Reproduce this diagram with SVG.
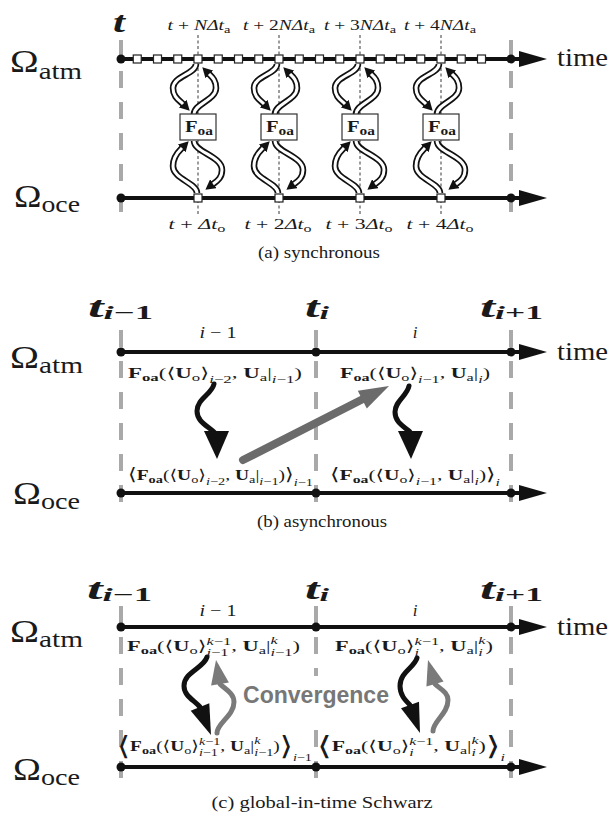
<svg xmlns="http://www.w3.org/2000/svg" width="611" height="816" viewBox="0 0 611 816">
<style>
text{font-family:"Liberation Serif","DejaVu Serif","DejaVu Sans",serif;fill:#1a1a1a}
.bf{font-weight:bold}
.it{font-style:italic}
.s{font-size:11px}
.tl{stroke:#111;stroke-width:4;fill:none}
.gd{stroke:#a9a9a9;stroke-width:4;stroke-dasharray:17 14;fill:none}
.td{stroke:#222;stroke-width:0.9;stroke-dasharray:3 2.5;fill:none}
.dot{fill:#111}
.ah{fill:#111}
.sq{fill:#fff;stroke:#222;stroke-width:1.2}
.box{fill:#fff;stroke:#333;stroke-width:1.2}
.to{stroke:#111;stroke-width:6.5;fill:none}
.ti{stroke:#fff;stroke-width:3;fill:none}
.bw{stroke:#111;stroke-width:5;fill:none;stroke-linecap:round}
.gw{stroke:#7a7a7a;stroke-width:5;fill:none;stroke-linecap:round}
.ga{fill:#7a7a7a}
.conv{font-family:"Liberation Sans",Arial,sans-serif;font-weight:bold;fill:#777}
</style>
<defs>
<marker id="tah" markerUnits="userSpaceOnUse" markerWidth="10" markerHeight="11" viewBox="0 0 10 11" refX="0.5" refY="5.5" orient="auto"><path d="M0,0 L10,5.5 L0,11 z" fill="#111"/></marker>
<g id="tubes">
<path class="to" marker-end="url(#tah)" d="M-2,64 C-2,74 -25,76 -25,88 C-25,97 -19,100 -15,104"/>
<path class="to" marker-end="url(#tah)" d="M-4,114 C-4,104 18,100 18,88 C18,80 14,77 11,74"/>
<path class="to" marker-end="url(#tah)" d="M-1,193 C-1,183 -25,179 -25,166 C-25,156 -19,151 -16,148"/>
<path class="to" marker-end="url(#tah)" d="M-4,141 C-4,152 24,156 24,170 C24,178 19,181 15,184"/>
<path class="ti" d="M-2,64 C-2,74 -25,76 -25,88 C-25,97 -19,100 -15,104"/>
<path class="ti" d="M-4,114 C-4,104 18,100 18,88 C18,80 14,77 11,74"/>
<path class="ti" d="M-1,193 C-1,183 -25,179 -25,166 C-25,156 -19,151 -16,148"/>
<path class="ti" d="M-4,141 C-4,152 24,156 24,170 C24,178 19,181 15,184"/>
</g>
<g id="foa">
<rect class="box" x="-18" y="114" width="36" height="26"/>
<text x="1" y="132" text-anchor="middle" font-size="16" class="bf" textLength="28" lengthAdjust="spacingAndGlyphs">F<tspan font-size="12" dy="3">oa</tspan></text>
</g>
</defs>

<!-- ===== Panel (a) ===== -->
<g id="panel-a">
<line class="gd" x1="121" y1="40" x2="121" y2="212"/>
<line class="gd" x1="511" y1="40" x2="511" y2="212"/>
<g id="a-ticks">
<line class="td" x1="198" y1="35" x2="198" y2="216"/>
<line class="td" x1="279" y1="35" x2="279" y2="216"/>
<line class="td" x1="360" y1="35" x2="360" y2="216"/>
<line class="td" x1="441" y1="35" x2="441" y2="216"/>
</g>
<g id="a-timelines">
<line class="tl" x1="121" y1="59" x2="524" y2="59"/>
<polygon class="ah" points="519,51 547,59 519,67"/>
<circle class="dot" cx="121" cy="59" r="4.5"/>
<circle class="dot" cx="511" cy="59" r="4.5"/>
<line class="tl" x1="121" y1="198" x2="524" y2="198"/>
<polygon class="ah" points="519,190 547,198 519,206"/>
<circle class="dot" cx="121" cy="198" r="4.5"/>
<circle class="dot" cx="511" cy="198" r="4.5"/>
</g>
<g id="a-connectors">
<use href="#tubes" x="198"/>
<use href="#tubes" x="279"/>
<use href="#tubes" x="360"/>
<use href="#tubes" x="441"/>
</g>
<g id="a-foa-1"><use href="#foa" x="198"/></g>
<g id="a-foa-2"><use href="#foa" x="279"/></g>
<g id="a-foa-3"><use href="#foa" x="360"/></g>
<g id="a-foa-4"><use href="#foa" x="441"/></g>
<g id="a-atm-steps">
<rect class="sq" x="133.25" y="55" width="8" height="8"/>
<rect class="sq" x="153.5" y="55" width="8" height="8"/>
<rect class="sq" x="173.75" y="55" width="8" height="8"/>
<rect class="sq" x="194" y="55" width="8" height="8"/>
<rect class="sq" x="214.25" y="55" width="8" height="8"/>
<rect class="sq" x="234.5" y="55" width="8" height="8"/>
<rect class="sq" x="254.75" y="55" width="8" height="8"/>
<rect class="sq" x="275" y="55" width="8" height="8"/>
<rect class="sq" x="295.25" y="55" width="8" height="8"/>
<rect class="sq" x="315.5" y="55" width="8" height="8"/>
<rect class="sq" x="335.75" y="55" width="8" height="8"/>
<rect class="sq" x="356" y="55" width="8" height="8"/>
<rect class="sq" x="376.25" y="55" width="8" height="8"/>
<rect class="sq" x="396.5" y="55" width="8" height="8"/>
<rect class="sq" x="416.75" y="55" width="8" height="8"/>
<rect class="sq" x="437" y="55" width="8" height="8"/>
<rect class="sq" x="457.25" y="55" width="8" height="8"/>
<rect class="sq" x="477.5" y="55" width="8" height="8"/>
</g>
<g id="a-oce-steps">
<rect class="sq" x="194" y="194" width="8" height="8"/>
<rect class="sq" x="275" y="194" width="8" height="8"/>
<rect class="sq" x="356" y="194" width="8" height="8"/>
<rect class="sq" x="437" y="194" width="8" height="8"/>
</g>
<g id="a-labels">
<text x="113" y="32" font-size="29" class="bf it" textLength="12" lengthAdjust="spacingAndGlyphs">t</text>
<text x="10" y="72" font-size="32" textLength="72" lengthAdjust="spacingAndGlyphs">Ω<tspan font-size="24" dy="7">atm</tspan></text>
<text x="14" y="207" font-size="32" textLength="66" lengthAdjust="spacingAndGlyphs">Ω<tspan font-size="24" dy="5">oce</tspan></text>
<text x="557" y="66" font-size="26" textLength="51" lengthAdjust="spacingAndGlyphs">time</text>
<text x="199" y="30" font-size="15" text-anchor="middle" textLength="63" lengthAdjust="spacingAndGlyphs"><tspan class="it">t</tspan> + <tspan class="it">NΔt</tspan><tspan class="s" dy="3">a</tspan></text>
<text x="279" y="30" font-size="15" text-anchor="middle" textLength="72" lengthAdjust="spacingAndGlyphs"><tspan class="it">t</tspan> + 2<tspan class="it">NΔt</tspan><tspan class="s" dy="3">a</tspan></text>
<text x="360" y="30" font-size="15" text-anchor="middle" textLength="72" lengthAdjust="spacingAndGlyphs"><tspan class="it">t</tspan> + 3<tspan class="it">NΔt</tspan><tspan class="s" dy="3">a</tspan></text>
<text x="440" y="30" font-size="15" text-anchor="middle" textLength="72" lengthAdjust="spacingAndGlyphs"><tspan class="it">t</tspan> + 4<tspan class="it">NΔt</tspan><tspan class="s" dy="3">a</tspan></text>
<text x="197" y="229" font-size="15" text-anchor="middle" textLength="57" lengthAdjust="spacingAndGlyphs"><tspan class="it">t</tspan> + <tspan class="it">Δt</tspan><tspan class="s" dy="3">o</tspan></text>
<text x="278" y="229" font-size="15" text-anchor="middle" textLength="67" lengthAdjust="spacingAndGlyphs"><tspan class="it">t</tspan> + 2<tspan class="it">Δt</tspan><tspan class="s" dy="3">o</tspan></text>
<text x="359" y="229" font-size="15" text-anchor="middle" textLength="67" lengthAdjust="spacingAndGlyphs"><tspan class="it">t</tspan> + 3<tspan class="it">Δt</tspan><tspan class="s" dy="3">o</tspan></text>
<text x="440" y="229" font-size="15" text-anchor="middle" textLength="67" lengthAdjust="spacingAndGlyphs"><tspan class="it">t</tspan> + 4<tspan class="it">Δt</tspan><tspan class="s" dy="3">o</tspan></text>
<text x="319" y="258" font-size="17" text-anchor="middle" textLength="122" lengthAdjust="spacingAndGlyphs">(a) synchronous</text>
</g>
</g>

<!-- ===== Panel (b) ===== -->
<g id="panel-b">
<line class="gd" x1="121" y1="330" x2="121" y2="505"/>
<line class="gd" x1="316" y1="330" x2="316" y2="505"/>
<line class="gd" x1="511" y1="330" x2="511" y2="505"/>
<g id="b-timelines">
<line class="tl" x1="121" y1="352" x2="524" y2="352"/>
<polygon class="ah" points="519,344 547,352 519,360"/>
<circle class="dot" cx="121" cy="352" r="4.5"/>
<circle class="dot" cx="316" cy="352" r="4.5"/>
<circle class="dot" cx="511" cy="352" r="4.5"/>
<line class="tl" x1="121" y1="493" x2="524" y2="493"/>
<polygon class="ah" points="519,485 547,493 519,501"/>
<circle class="dot" cx="121" cy="493" r="4.5"/>
<circle class="dot" cx="316" cy="493" r="4.5"/>
<circle class="dot" cx="511" cy="493" r="4.5"/>
</g>
<g id="b-connectors">
<path class="bw" d="M214,384 C212,394 197,399 197,411 C197,422 208,426 215,433"/>
<polygon class="ah" points="204,431 229,431 217,459"/>
<path class="bw" d="M409,386 C407,396 395,401 395,412 C395,422 403,426 410,432"/>
<polygon class="ah" points="398,431 423,431 411,459"/>
<line x1="243" y1="460" x2="363" y2="399" stroke="#6b6b6b" stroke-width="8" stroke-linecap="round"/>
<polygon fill="#6b6b6b" points="389,386 366.8,408.5 357.8,390.7"/>
</g>
<g id="b-labels">
<text x="10" y="368" font-size="32" textLength="73" lengthAdjust="spacingAndGlyphs">Ω<tspan font-size="24" dy="5">atm</tspan></text>
<text x="13" y="504" font-size="32" textLength="67" lengthAdjust="spacingAndGlyphs">Ω<tspan font-size="24" dy="5">oce</tspan></text>
<text x="557" y="360" font-size="26" textLength="51" lengthAdjust="spacingAndGlyphs">time</text>
<text x="88" y="317" font-size="29" class="bf" textLength="65" lengthAdjust="spacingAndGlyphs"><tspan class="it">t</tspan><tspan font-size="19" dy="2"><tspan class="it">i</tspan>−1</tspan></text>
<text x="305" y="317" font-size="29" class="bf" textLength="24" lengthAdjust="spacingAndGlyphs"><tspan class="it">t</tspan><tspan font-size="19" dy="2" class="it">i</tspan></text>
<text x="480" y="317" font-size="29" class="bf" textLength="63" lengthAdjust="spacingAndGlyphs"><tspan class="it">t</tspan><tspan font-size="19" dy="2"><tspan class="it">i</tspan>+1</tspan></text>
<text x="218" y="338" font-size="17" text-anchor="middle" textLength="37" lengthAdjust="spacingAndGlyphs"><tspan class="it">i</tspan> − 1</text>
<text x="415" y="338" font-size="17" text-anchor="middle" class="it">i</text>
<text x="128" y="378" font-size="15" textLength="174" lengthAdjust="spacingAndGlyphs"><tspan class="bf">F</tspan><tspan class="bf s" dy="3">oa</tspan><tspan dy="-3">(⟨</tspan><tspan class="bf">U</tspan><tspan class="s" dy="3">o</tspan><tspan dy="-3">⟩</tspan><tspan class="s" dy="5"><tspan class="it">i</tspan>−2</tspan><tspan dy="-5">, </tspan><tspan class="bf">U</tspan><tspan class="s" dy="3">a</tspan><tspan dy="-3">|</tspan><tspan class="s" dy="5"><tspan class="it">i</tspan>−1</tspan><tspan dy="-5">)</tspan></text>
<text x="340" y="378" font-size="15" textLength="150" lengthAdjust="spacingAndGlyphs"><tspan class="bf">F</tspan><tspan class="bf s" dy="3">oa</tspan><tspan dy="-3">(⟨</tspan><tspan class="bf">U</tspan><tspan class="s" dy="3">o</tspan><tspan dy="-3">⟩</tspan><tspan class="s" dy="5"><tspan class="it">i</tspan>−1</tspan><tspan dy="-5">, </tspan><tspan class="bf">U</tspan><tspan class="s" dy="3">a</tspan><tspan dy="-3">|</tspan><tspan class="s it" dy="5">i</tspan><tspan dy="-5">)</tspan></text>
<text x="128" y="480" font-size="15" textLength="185" lengthAdjust="spacingAndGlyphs"><tspan font-size="17">⟨</tspan><tspan class="bf">F</tspan><tspan class="bf s" dy="3">oa</tspan><tspan dy="-3">(⟨</tspan><tspan class="bf">U</tspan><tspan class="s" dy="3">o</tspan><tspan dy="-3">⟩</tspan><tspan class="s" dy="5"><tspan class="it">i</tspan>−2</tspan><tspan dy="-5">, </tspan><tspan class="bf">U</tspan><tspan class="s" dy="3">a</tspan><tspan dy="-3">|</tspan><tspan class="s" dy="5"><tspan class="it">i</tspan>−1</tspan><tspan dy="-5">)</tspan><tspan font-size="17">⟩</tspan><tspan class="s" dy="6"><tspan class="it">i</tspan>−1</tspan></text>
<text x="330" y="480" font-size="15" textLength="170" lengthAdjust="spacingAndGlyphs"><tspan font-size="17">⟨</tspan><tspan class="bf">F</tspan><tspan class="bf s" dy="3">oa</tspan><tspan dy="-3">(⟨</tspan><tspan class="bf">U</tspan><tspan class="s" dy="3">o</tspan><tspan dy="-3">⟩</tspan><tspan class="s" dy="5"><tspan class="it">i</tspan>−1</tspan><tspan dy="-5">, </tspan><tspan class="bf">U</tspan><tspan class="s" dy="3">a</tspan><tspan dy="-3">|</tspan><tspan class="s it" dy="5">i</tspan><tspan dy="-5">)</tspan><tspan font-size="17">⟩</tspan><tspan class="s it" dy="6">i</tspan></text>
<text x="322" y="527" font-size="17" text-anchor="middle" textLength="130" lengthAdjust="spacingAndGlyphs">(b) asynchronous</text>
</g>
</g>

<!-- ===== Panel (c) ===== -->
<g id="panel-c">
<line class="gd" x1="121" y1="606" x2="121" y2="785"/>
<line class="gd" x1="316" y1="606" x2="316" y2="785"/>
<line class="gd" x1="511" y1="606" x2="511" y2="785"/>
<g id="c-timelines">
<line class="tl" x1="121" y1="627" x2="524" y2="627"/>
<polygon class="ah" points="519,619 547,627 519,635"/>
<circle class="dot" cx="121" cy="627" r="4.5"/>
<circle class="dot" cx="316" cy="627" r="4.5"/>
<circle class="dot" cx="511" cy="627" r="4.5"/>
<line class="tl" x1="121" y1="767" x2="524" y2="767"/>
<polygon class="ah" points="519,759 547,767 519,775"/>
<circle class="dot" cx="121" cy="767" r="4.5"/>
<circle class="dot" cx="316" cy="767" r="4.5"/>
<circle class="dot" cx="511" cy="767" r="4.5"/>
</g>
<g id="c-convergence">
<rect x="240" y="676" width="152" height="40" fill="#fff"/>
<text x="243" y="703" font-size="23" class="conv" textLength="146" lengthAdjust="spacingAndGlyphs">Convergence</text>
</g>
<g id="c-connectors">
<path class="bw" d="M207,657 C204,668 184,672 184,686 C184,696 194,700 200,707"/>
<polygon class="ah" points="209.3,703.3 190.7,710.7 211,735"/>
<path class="gw" d="M217,733 C217,723 234,716 234,702 C234,693 225,689 220,684"/>
<polygon class="ga" points="228.9,682.5 211.1,685.5 216,660"/>
<path class="bw" d="M417,658 C414,668 400,672 400,686 C400,695 405,700 410,705"/>
<polygon class="ah" points="419,701.8 401,708.2 420,733"/>
<path class="gw" d="M433,731 C433,721 448,714 448,700 C448,692 440,689 435,684"/>
<polygon class="ga" points="443.6,681.5 426.4,686.5 428,660"/>
</g>
<g id="c-labels">
<text x="10" y="642" font-size="32" textLength="73" lengthAdjust="spacingAndGlyphs">Ω<tspan font-size="24" dy="5">atm</tspan></text>
<text x="13" y="780" font-size="32" textLength="67" lengthAdjust="spacingAndGlyphs">Ω<tspan font-size="24" dy="5">oce</tspan></text>
<text x="557" y="635" font-size="26" textLength="51" lengthAdjust="spacingAndGlyphs">time</text>
<text x="87" y="599" font-size="29" class="bf" textLength="65" lengthAdjust="spacingAndGlyphs"><tspan class="it">t</tspan><tspan font-size="19" dy="2"><tspan class="it">i</tspan>−1</tspan></text>
<text x="305" y="599" font-size="29" class="bf" textLength="24" lengthAdjust="spacingAndGlyphs"><tspan class="it">t</tspan><tspan font-size="19" dy="2" class="it">i</tspan></text>
<text x="480" y="599" font-size="29" class="bf" textLength="63" lengthAdjust="spacingAndGlyphs"><tspan class="it">t</tspan><tspan font-size="19" dy="2"><tspan class="it">i</tspan>+1</tspan></text>
<text x="218" y="616" font-size="17" text-anchor="middle" textLength="37" lengthAdjust="spacingAndGlyphs"><tspan class="it">i</tspan> − 1</text>
<text x="415" y="616" font-size="17" text-anchor="middle" class="it">i</text>
<text x="127" y="651" font-size="15" textLength="173" lengthAdjust="spacingAndGlyphs"><tspan class="bf">F</tspan><tspan class="bf s" dy="3">oa</tspan><tspan dy="-3">(⟨</tspan><tspan class="bf">U</tspan><tspan class="s" dy="3">o</tspan><tspan dy="-3">⟩</tspan><tspan class="s" dy="-6"><tspan class="it">k</tspan>−1</tspan><tspan class="s" dx="-16.6" dy="11"><tspan class="it">i</tspan>−1</tspan><tspan dx="1.8" dy="-5">, </tspan><tspan class="bf">U</tspan><tspan class="s" dy="3">a</tspan><tspan dy="-3">|</tspan><tspan class="s it" dy="-7">k</tspan><tspan class="s" dx="-4.9" dy="12"><tspan class="it">i</tspan>−1</tspan><tspan dy="-5">)</tspan></text>
<text x="335" y="651" font-size="15" textLength="158" lengthAdjust="spacingAndGlyphs"><tspan class="bf">F</tspan><tspan class="bf s" dy="3">oa</tspan><tspan dy="-3">(⟨</tspan><tspan class="bf">U</tspan><tspan class="s" dy="3">o</tspan><tspan dy="-3">⟩</tspan><tspan class="s" dy="-6"><tspan class="it">k</tspan>−1</tspan><tspan class="s it" dx="-16.6" dy="11">i</tspan><tspan dx="13.5" dy="-5">, </tspan><tspan class="bf">U</tspan><tspan class="s" dy="3">a</tspan><tspan dy="-3">|</tspan><tspan class="s it" dy="-7">k</tspan><tspan class="s it" dx="-4.9" dy="12">i</tspan><tspan dx="1.8" dy="-5">)</tspan></text>
<text x="117" y="751" font-size="15" textLength="195" lengthAdjust="spacingAndGlyphs"><tspan font-size="26" dy="4">⟨</tspan><tspan class="bf" dy="-4">F</tspan><tspan class="bf s" dy="3">oa</tspan><tspan dy="-3">(⟨</tspan><tspan class="bf">U</tspan><tspan class="s" dy="3">o</tspan><tspan dy="-3">⟩</tspan><tspan class="s" dy="-6"><tspan class="it">k</tspan>−1</tspan><tspan class="s" dx="-16.6" dy="11"><tspan class="it">i</tspan>−1</tspan><tspan dx="1.8" dy="-5">, </tspan><tspan class="bf">U</tspan><tspan class="s" dy="3">a</tspan><tspan dy="-3">|</tspan><tspan class="s it" dy="-7">k</tspan><tspan class="s" dx="-4.9" dy="12"><tspan class="it">i</tspan>−1</tspan><tspan dy="-5">)</tspan><tspan font-size="26" dy="4">⟩</tspan><tspan class="s" dy="6"><tspan class="it">i</tspan>−1</tspan></text>
<text x="317" y="751" font-size="15" textLength="188" lengthAdjust="spacingAndGlyphs"><tspan font-size="26" dy="4">⟨</tspan><tspan class="bf" dy="-4">F</tspan><tspan class="bf s" dy="3">oa</tspan><tspan dy="-3">(⟨</tspan><tspan class="bf">U</tspan><tspan class="s" dy="3">o</tspan><tspan dy="-3">⟩</tspan><tspan class="s" dy="-6"><tspan class="it">k</tspan>−1</tspan><tspan class="s it" dx="-16.6" dy="11">i</tspan><tspan dx="13.5" dy="-5">, </tspan><tspan class="bf">U</tspan><tspan class="s" dy="3">a</tspan><tspan dy="-3">|</tspan><tspan class="s it" dy="-7">k</tspan><tspan class="s it" dx="-4.9" dy="12">i</tspan><tspan dx="1.8" dy="-5">)</tspan><tspan font-size="26" dy="4">⟩</tspan><tspan class="s it" dy="6">i</tspan></text>
<text x="322" y="808" font-size="17" text-anchor="middle" textLength="221" lengthAdjust="spacingAndGlyphs">(c) global-in-time Schwarz</text>
</g>
</g>
</svg>
